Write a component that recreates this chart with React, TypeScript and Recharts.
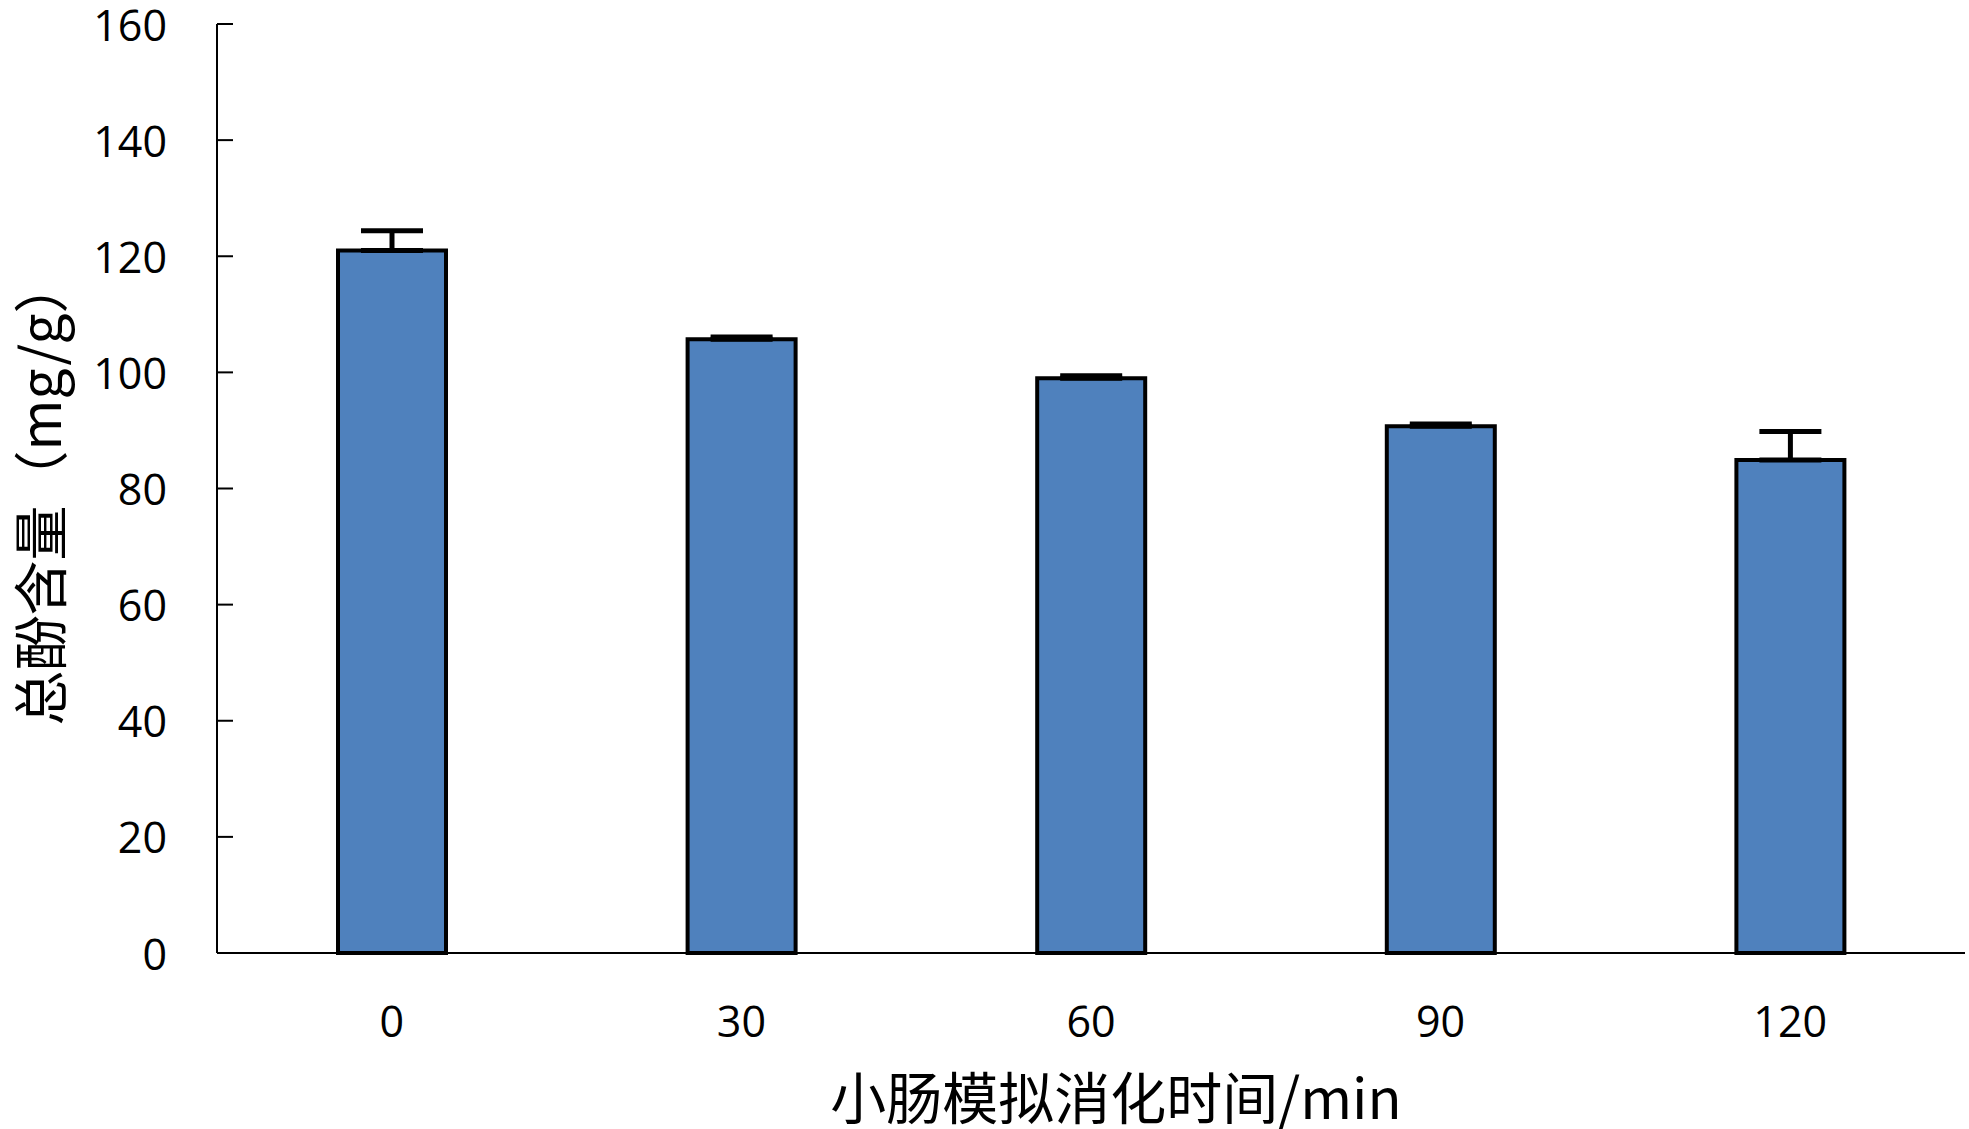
import { BarChart, Bar, XAxis, YAxis, ErrorBar, Label } from "recharts";

const times = ["0", "30", "60", "90", "120"];
const phenolContent = [121.0, 105.7, 99.0, 90.7, 84.9];
const phenolError = [3.4, 0.4, 0.4, 0.4, 4.9];
const yTicks = [0, 20, 40, 60, 80, 100, 120, 140, 160];

const chartData = times.map((time, i) => ({
  time,
  value: phenolContent[i],
  err: [0, phenolError[i]],
}));

const numFont = "'Open Sans', 'Noto Sans', sans-serif";
const cjkFont = "'Noto Sans CJK SC', 'Noto Sans', sans-serif";
const TICK_GAP = 50;

function YTick(props: any) {
  const { x, y, payload } = props;
  return (
    <g>
      <line x1={x + TICK_GAP} x2={x + TICK_GAP + 16} y1={y} y2={y} stroke="#000" strokeWidth={2} />
      <text x={x} y={y} textAnchor="end" dominantBaseline="central" fontFamily={numFont} fontSize={43} fill="#000">
        {payload.value}
      </text>
    </g>
  );
}

function XTick(props: any) {
  const { x, y, payload } = props;
  return (
    <text x={x} y={y + 67} textAnchor="middle" dominantBaseline="central" fontFamily={numFont} fontSize={43} fill="#000">
      {payload.value}
    </text>
  );
}

export default function App() {
  return (
    <div style={{ position: "absolute", left: 0, top: 0, width: 1969, height: 1129, background: "#fff" }}>
      <BarChart width={1969} height={1129} data={chartData} margin={{ top: 24, right: 4, left: 0, bottom: 0 }}>
        <XAxis
          dataKey="time"
          height={176}
          axisLine={{ stroke: "#000", strokeWidth: 2 }}
          tickLine={false}
          tickSize={0}
          tickMargin={0}
          tick={<XTick />}
        >
          <Label
            content={(p: any) => {
              const vb = p.viewBox;
              return (
                <text
                  x={vb.x + vb.width / 2 + 25}
                  y={1094}
                  textAnchor="middle"
                  dominantBaseline="central"
                  fontFamily={cjkFont}
                  fontSize={56}
                  fill="#000"
                >
                  小肠模拟消化时间/min
                </text>
              );
            }}
          />
        </XAxis>
        <YAxis
          width={217}
          domain={[0, 160]}
          ticks={yTicks}
          interval={0}
          axisLine={{ stroke: "#000", strokeWidth: 2 }}
          tickLine={false}
          tickSize={0}
          tickMargin={TICK_GAP}
          tick={<YTick />}
        >
          <Label
            content={() => (
              <text
                x={37}
                y={492}
                transform="rotate(-90 37 492)"
                textAnchor="middle"
                dominantBaseline="central"
                fontFamily={cjkFont}
                fontSize={55}
                fill="#000"
              >
                总酚含量（mg/g）
              </text>
            )}
          />
        </YAxis>
        <Bar dataKey="value" fill="#4F81BD" stroke="#000" strokeWidth={4} barSize={108} isAnimationActive={false}>
          <ErrorBar dataKey="err" direction="y" width={31} stroke="#000" strokeWidth={5} />
        </Bar>
      </BarChart>
    </div>
  );
}
